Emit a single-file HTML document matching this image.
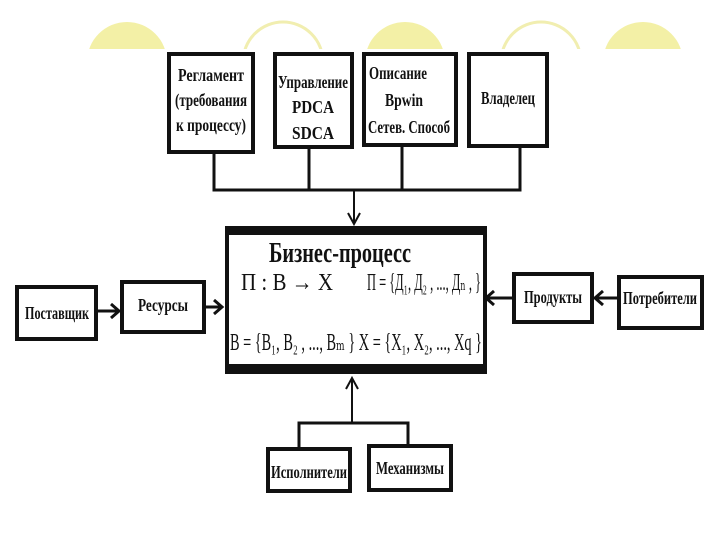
<!DOCTYPE html>
<html><head><meta charset="utf-8"><style>
html,body{margin:0;padding:0;background:#fff;}
svg{display:block}
text{font-family:"Liberation Serif","DejaVu Serif",serif;fill:#111;}
</style></head><body>
<svg width="720" height="540" viewBox="0 0 720 540" xmlns="http://www.w3.org/2000/svg">
<g fill="#f3f0a6" stroke="none">
<circle cx="127" cy="62" r="40"/>
<circle cx="405" cy="62" r="40"/>
<circle cx="643" cy="62" r="40"/>
</g>
<g fill="none" stroke="#f1eeb0" stroke-width="3">
<circle cx="283" cy="62" r="40"/>
<circle cx="541" cy="62" r="40"/>
</g>
<rect x="0" y="49" width="720" height="491" fill="#fff"/>
<g fill="#fff" stroke="#111" stroke-width="4">
<rect x="169" y="54" width="84" height="98"/>
<rect x="275" y="54" width="77" height="93"/>
<rect x="364" y="54" width="92" height="91"/>
<rect x="469" y="54" width="78" height="92"/>
</g>
<g font-size="18" text-anchor="middle" font-weight="bold">
<text x="211" y="81" textLength="66" lengthAdjust="spacingAndGlyphs">Регламент</text>
<text x="211" y="106" textLength="72" lengthAdjust="spacingAndGlyphs">(требования</text>
<text x="211" y="131" textLength="70" lengthAdjust="spacingAndGlyphs">к процессу)</text>
<text x="313" y="88" textLength="70" lengthAdjust="spacingAndGlyphs">Управление</text>
<text x="313" y="113" textLength="42" lengthAdjust="spacingAndGlyphs">PDCA</text>
<text x="313" y="139" textLength="42" lengthAdjust="spacingAndGlyphs">SDCA</text>
<text x="398" y="79" textLength="58" lengthAdjust="spacingAndGlyphs">Описание</text>
<text x="404" y="106" textLength="38" lengthAdjust="spacingAndGlyphs">Bpwin</text>
<text x="409" y="133" textLength="82" lengthAdjust="spacingAndGlyphs">Сетев. Способ</text>
<text x="508" y="104" textLength="54" lengthAdjust="spacingAndGlyphs">Владелец</text>
</g>
<g stroke="#111" stroke-width="3" fill="none">
<path d="M214 152V190H520V146M309 147V190M402 145V190"/>
<path d="M354 190V224" stroke-width="2"/>
<path d="M348 213L354 224L360 213" stroke-width="2"/>
</g>
<rect x="227" y="231" width="258" height="135" fill="#fff" stroke="#111" stroke-width="4"/>
<rect x="225" y="226" width="262" height="9" fill="#111"/>
<rect x="225" y="364" width="262" height="10" fill="#111"/>
<text x="340" y="262" font-size="28" font-weight="bold" text-anchor="middle" textLength="142" lengthAdjust="spacingAndGlyphs">Бизнес-процесс</text>
<g font-size="24">
<text x="241" y="290" textLength="92" lengthAdjust="spacingAndGlyphs">П : В → Х</text>
<text x="367" y="290" textLength="114" lengthAdjust="spacingAndGlyphs">П = {Д₁, Д₂ , ..., Дₙ , }</text>
<text x="230" y="350" textLength="252" lengthAdjust="spacingAndGlyphs">В = {В₁, В₂ , ..., Вₘ  } Х = {Х₁, Х₂, ..., Хq  }</text>
</g>
<g fill="#fff" stroke="#111" stroke-width="4">
<rect x="17" y="287" width="79" height="52"/>
<rect x="122" y="282" width="82" height="50"/>
<rect x="514" y="274" width="78" height="48"/>
<rect x="619" y="277" width="83" height="51"/>
<rect x="268" y="449" width="82" height="42"/>
<rect x="369" y="446" width="82" height="44"/>
</g>
<g font-size="18" font-weight="bold" text-anchor="middle">
<text x="57" y="319" textLength="64" lengthAdjust="spacingAndGlyphs">Поставщик</text>
<text x="163" y="311" textLength="50" lengthAdjust="spacingAndGlyphs">Ресурсы</text>
<text x="553" y="303" textLength="58" lengthAdjust="spacingAndGlyphs">Продукты</text>
<text x="660" y="304" textLength="74" lengthAdjust="spacingAndGlyphs">Потребители</text>
<text x="309" y="478" textLength="76" lengthAdjust="spacingAndGlyphs">Исполнители</text>
<text x="410" y="474" textLength="68" lengthAdjust="spacingAndGlyphs">Механизмы</text>
</g>
<g stroke="#111" stroke-width="3" fill="none">
<path d="M97 311H118M111 304L119 311L111 318"/>
<path d="M204 307H222M214 300L222 307L214 314"/>
<path d="M514 298H486M494 291L486 298L494 305"/>
<path d="M619 298H595M603 291L595 298L603 305"/>
<path d="M299 449V423H408V446"/>
<path d="M352 423V378M346 389L352 378L358 389" stroke-width="2"/>
</g>
</svg>
</body></html>
